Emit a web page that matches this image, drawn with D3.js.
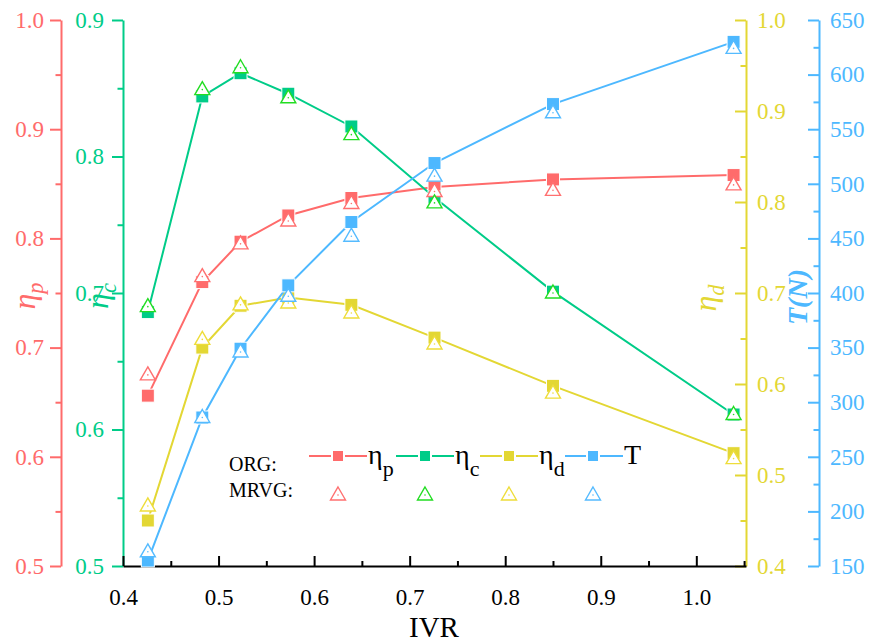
<!DOCTYPE html>
<html>
<head>
<meta charset="utf-8">
<style>
body { margin: 0; background: #fff; }
text { font-family: "Liberation Serif", "Times New Roman", serif; }
.axis path, .axis line { stroke-width: 2px; }
</style>
<script src="https://cdn.jsdelivr.net/npm/d3@7"></script>
</head>
<body>
<script>
// values
var ivr = [0.426, 0.483, 0.523, 0.573, 0.639, 0.726, 0.850, 1.039];
var etaP_org  = [0.656, 0.760, 0.797, 0.821, 0.837, 0.847, 0.854, 0.858];
var etaP_mrvg = [0.675, 0.765, 0.795, 0.816, 0.832, 0.843, 0.844, 0.849];
var etaC_org  = [0.686, 0.844, 0.861, 0.846, 0.822, 0.770, 0.701, 0.611];
var etaC_mrvg = [0.690, 0.849, 0.865, 0.843, 0.816, 0.766, 0.700, 0.611];
var etaD_org  = [0.450, 0.640, 0.686, 0.695, 0.687, 0.651, 0.598, 0.524];
var etaD_mrvg = [0.466, 0.649, 0.687, 0.689, 0.678, 0.644, 0.590, 0.518];
var T_org  = [155, 286, 349, 407, 465, 519, 573, 630];
var T_mrvg = [163, 286, 346, 397, 452, 507, 565, 624];

var xTicks = [0.4, 0.5, 0.6, 0.7, 0.8, 0.9, 1.0];

var red = "#FF6B6B", green = "#00CC88", yellow = "#E3D734", blue = "#4DB8FF";
var redTri = "#FF7070", greenTri = "#22DD22", yellowTri = "#EEDD3A", blueTri = "#55BBFF";

var serif = '"Liberation Serif", "Times New Roman", serif';
var width = 869, height = 643;
var top_ = 20, bottom = 566;

var svg = d3.select("body").append("svg")
    .attr("width", width)
    .attr("height", height)
    .attr("font-family", serif);

var x = d3.scaleLinear().domain([0.4, 1.052]).range([123, 746]);
var yP = d3.scaleLinear().domain([0.5, 1.0]).range([bottom, top_]);
var yC = d3.scaleLinear().domain([0.5, 0.9]).range([bottom, top_]);
var yD = d3.scaleLinear().domain([0.4, 1.0]).range([bottom, top_]);
var yT = d3.scaleLinear().domain([150, 650]).range([bottom, top_]);

function range(a, b, s) {
  var out = [];
  for (var v = a; v <= b + s / 10; v += s) out.push(+v.toFixed(4));
  return out;
}

// one y axis: major ticks + labels, minor ticks
function yAxis(scale, xpos, color, side, major, minor, fmt, pad) {
  var g = svg.append("g").attr("class", "axis").attr("transform", "translate(" + xpos + ",0)");
  var ax = side == "left" ? d3.axisLeft(scale) : d3.axisRight(scale);
  var mi = side == "left" ? d3.axisLeft(scale) : d3.axisRight(scale);
  var len = side == "left" ? 11 : -11;
  g.append("g").call(mi.tickValues(minor).tickSize(len / 2).tickFormat(""))
    .call(function(s) { s.select(".domain").remove(); });
  g.append("g").call(ax.tickValues(major).tickSizeInner(len).tickSizeOuter(0).tickPadding(pad).tickFormat(fmt));
  g.selectAll("g").attr("font-family", serif).attr("font-size", 23);
  g.selectAll("path, line").attr("stroke", color);
  g.selectAll("text").attr("fill", color);
  return g;
}

yAxis(yP, 61, red, "left", range(0.5, 1.0, 0.1), range(0.55, 0.95, 0.1), d3.format(".1f"), 6);
yAxis(yC, 123, green, "left", range(0.5, 0.9, 0.1), range(0.55, 0.85, 0.1), d3.format(".1f"), 8);
yAxis(yD, 746, yellow, "right", range(0.4, 1.0, 0.1), range(0.45, 0.95, 0.1), d3.format(".1f"), 11);
yAxis(yT, 819, blue, "right", range(150, 650, 50), range(175, 625, 50), d3.format("d"), 11);

// x axis
var gx = svg.append("g").attr("class", "axis").attr("transform", "translate(0," + bottom + ")");
gx.append("g").call(d3.axisBottom(x).tickValues(range(0.45, 1.05, 0.1)).tickSize(-5).tickFormat(""))
  .call(function(s) { s.select(".domain").remove(); });
gx.append("g").call(d3.axisBottom(x).tickValues(xTicks).tickSizeInner(-10).tickSizeOuter(0)
  .tickPadding(23).tickFormat(d3.format(".1f")));
gx.selectAll("g").attr("font-family", serif).attr("font-size", 23);
gx.selectAll("path, line").attr("stroke", "#000");
gx.selectAll("text").attr("fill", "#000");

svg.append("text")
  .attr("x", 434).attr("y", 637)
  .attr("text-anchor", "middle")
  .style("font-size", "29px")
  .text("IVR");

// axis titles
function rotLabel(xp, yp, color, main, sub, italic, bold, size) {
  var t = svg.append("text")
    .attr("transform", "translate(" + xp + "," + yp + ") rotate(-90)")
    .attr("text-anchor", "middle")
    .attr("fill", color)
    .style("font-size", size + "px")
    .style("font-style", italic ? "italic" : "normal")
    .style("font-weight", bold ? "bold" : "normal");
  t.append("tspan").text(main);
  if (sub) t.append("tspan").attr("dy", 8).style("font-size", (size * 0.7) + "px").text(sub);
}
rotLabel(35, 296, red, "\u03b7", "p", true, false, 32);
rotLabel(108, 296, green, "\u03b7", "c", true, false, 32);
rotLabel(716, 298, yellow, "\u03b7", "d", true, false, 32);
rotLabel(807, 297, blue, "T(N)", null, true, true, 28);

// series
var series = [
  {org: etaP_org, mrvg: etaP_mrvg, y: yP, color: red, tri: redTri},
  {org: etaC_org, mrvg: etaC_mrvg, y: yC, color: green, tri: greenTri},
  {org: etaD_org, mrvg: etaD_mrvg, y: yD, color: yellow, tri: yellowTri},
  {org: T_org, mrvg: T_mrvg, y: yT, color: blue, tri: blueTri}
];

var triPath = "M0,-8L7.5,5L-7.5,5Z";

series.forEach(function(s) {
  var line = d3.line()
    .x(function(d, i) { return x(ivr[i]); })
    .y(function(d) { return s.y(d); });
  svg.append("path")
    .datum(s.org)
    .attr("d", line)
    .attr("fill", "none")
    .attr("stroke", s.color)
    .attr("stroke-width", 2);
  svg.append("g").selectAll("rect")
    .data(s.org)
    .enter().append("rect")
    .attr("x", function(d, i) { return x(ivr[i]) - 6.5; })
    .attr("y", function(d) { return s.y(d) - 6.5; })
    .attr("width", 13).attr("height", 13)
    .attr("fill", s.color)
    .attr("stroke", "#fff")
    .attr("stroke-width", 1);
});

series.forEach(function(s) {
  var g = svg.append("g").selectAll("g")
    .data(s.mrvg)
    .enter().append("g")
    .attr("transform", function(d, i) { return "translate(" + x(ivr[i]) + "," + s.y(d) + ")"; });
  g.append("path").attr("d", triPath)
    .attr("fill", "#fff").attr("stroke", s.tri).attr("stroke-width", 1.4);
  g.append("circle").attr("r", 0.8).attr("fill", s.tri);
});

// legend
svg.append("text").attr("x", 229).attr("y", 471).style("font-size", "20px").text("ORG:");
svg.append("text").attr("x", 229).attr("y", 497).style("font-size", "20px").text("MRVG:");

var legend = [
  {x0: 309, sq: 338, color: red, tri: redTri, name: "\u03b7", sub: "p"},
  {x0: 396, sq: 425, color: green, tri: greenTri, name: "\u03b7", sub: "c"},
  {x0: 480, sq: 509, color: yellow, tri: yellowTri, name: "\u03b7", sub: "d"},
  {x0: 565, sq: 593, color: blue, tri: blueTri, name: "T", sub: null}
];
legend.forEach(function(l) {
  svg.append("line")
    .attr("x1", l.x0).attr("x2", l.x0 + 58)
    .attr("y1", 456).attr("y2", 456)
    .attr("stroke", l.color).attr("stroke-width", 2);
  svg.append("rect")
    .attr("x", l.sq - 6).attr("y", 450).attr("width", 12).attr("height", 12)
    .attr("fill", l.color).attr("stroke", "#fff").attr("stroke-width", 2);
  var t = svg.append("text").attr("x", l.x0 + 59).attr("y", 464).style("font-size", "28px");
  t.append("tspan").text(l.name);
  if (l.sub) t.append("tspan").attr("dy", 12).style("font-size", "22px").text(l.sub);
  var tg = svg.append("g").attr("transform", "translate(" + l.sq + ",495)");
  tg.append("path").attr("d", triPath).attr("fill", "#fff").attr("stroke", l.tri).attr("stroke-width", 1.4);
  tg.append("circle").attr("r", 0.8).attr("fill", l.tri);
});
</script>
</body>
</html>
